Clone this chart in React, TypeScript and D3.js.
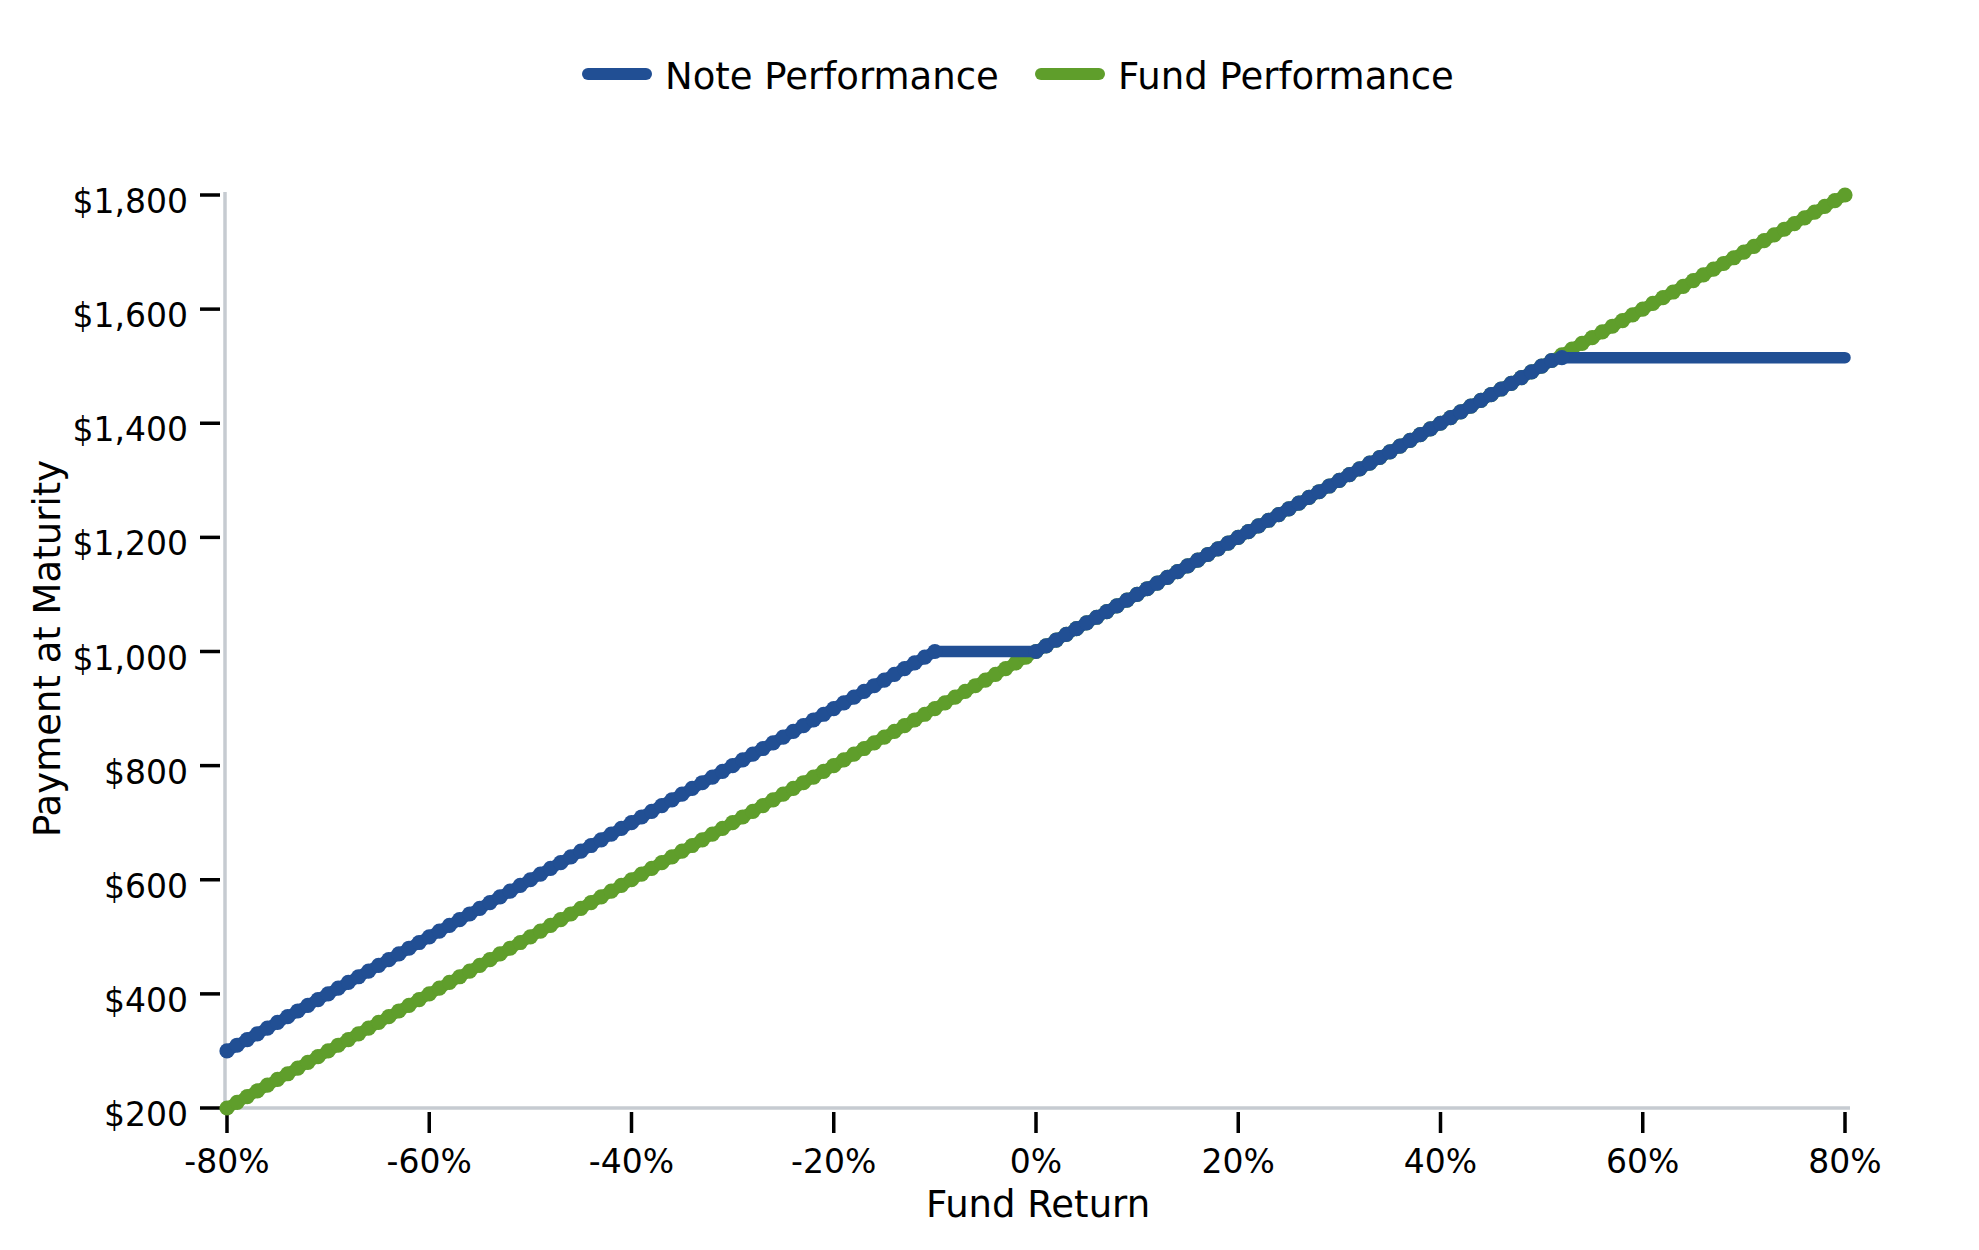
import React, { useRef, useEffect } from "react";
import * as d3 from "d3";

// fund return in %, one point per 1%
const returns = [
  -80, -79, -78, -77, -76, -75, -74, -73, -72, -71,
  -70, -69, -68, -67, -66, -65, -64, -63, -62, -61,
  -60, -59, -58, -57, -56, -55, -54, -53, -52, -51,
  -50, -49, -48, -47, -46, -45, -44, -43, -42, -41,
  -40, -39, -38, -37, -36, -35, -34, -33, -32, -31,
  -30, -29, -28, -27, -26, -25, -24, -23, -22, -21,
  -20, -19, -18, -17, -16, -15, -14, -13, -12, -11,
  -10, -9, -8, -7, -6, -5, -4, -3, -2, -1,
  0, 1, 2, 3, 4, 5, 6, 7, 8, 9,
  10, 11, 12, 13, 14, 15, 16, 17, 18, 19,
  20, 21, 22, 23, 24, 25, 26, 27, 28, 29,
  30, 31, 32, 33, 34, 35, 36, 37, 38, 39,
  40, 41, 42, 43, 44, 45, 46, 47, 48, 49,
  50, 51, 52, 53, 54, 55, 56, 57, 58, 59,
  60, 61, 62, 63, 64, 65, 66, 67, 68, 69,
  70, 71, 72, 73, 74, 75, 76, 77, 78, 79,
  80,
];

const notePerformance = [
  300, 310, 320, 330, 340, 350, 360, 370, 380, 390,
  400, 410, 420, 430, 440, 450, 460, 470, 480, 490,
  500, 510, 520, 530, 540, 550, 560, 570, 580, 590,
  600, 610, 620, 630, 640, 650, 660, 670, 680, 690,
  700, 710, 720, 730, 740, 750, 760, 770, 780, 790,
  800, 810, 820, 830, 840, 850, 860, 870, 880, 890,
  900, 910, 920, 930, 940, 950, 960, 970, 980, 990,
  1000, 1000, 1000, 1000, 1000, 1000, 1000, 1000, 1000, 1000,
  1000, 1010, 1020, 1030, 1040, 1050, 1060, 1070, 1080, 1090,
  1100, 1110, 1120, 1130, 1140, 1150, 1160, 1170, 1180, 1190,
  1200, 1210, 1220, 1230, 1240, 1250, 1260, 1270, 1280, 1290,
  1300, 1310, 1320, 1330, 1340, 1350, 1360, 1370, 1380, 1390,
  1400, 1410, 1420, 1430, 1440, 1450, 1460, 1470, 1480, 1490,
  1500, 1510, 1515, 1515, 1515, 1515, 1515, 1515, 1515, 1515,
  1515, 1515, 1515, 1515, 1515, 1515, 1515, 1515, 1515, 1515,
  1515, 1515, 1515, 1515, 1515, 1515, 1515, 1515, 1515, 1515,
  1515,
];

const fundPerformance = [
  200, 210, 220, 230, 240, 250, 260, 270, 280, 290,
  300, 310, 320, 330, 340, 350, 360, 370, 380, 390,
  400, 410, 420, 430, 440, 450, 460, 470, 480, 490,
  500, 510, 520, 530, 540, 550, 560, 570, 580, 590,
  600, 610, 620, 630, 640, 650, 660, 670, 680, 690,
  700, 710, 720, 730, 740, 750, 760, 770, 780, 790,
  800, 810, 820, 830, 840, 850, 860, 870, 880, 890,
  900, 910, 920, 930, 940, 950, 960, 970, 980, 990,
  1000, 1010, 1020, 1030, 1040, 1050, 1060, 1070, 1080, 1090,
  1100, 1110, 1120, 1130, 1140, 1150, 1160, 1170, 1180, 1190,
  1200, 1210, 1220, 1230, 1240, 1250, 1260, 1270, 1280, 1290,
  1300, 1310, 1320, 1330, 1340, 1350, 1360, 1370, 1380, 1390,
  1400, 1410, 1420, 1430, 1440, 1450, 1460, 1470, 1480, 1490,
  1500, 1510, 1520, 1530, 1540, 1550, 1560, 1570, 1580, 1590,
  1600, 1610, 1620, 1630, 1640, 1650, 1660, 1670, 1680, 1690,
  1700, 1710, 1720, 1730, 1740, 1750, 1760, 1770, 1780, 1790,
  1800,
];

const xTicks = [-80, -60, -40, -20, 0, 20, 40, 60, 80];
const yTicks = [200, 400, 600, 800, 1000, 1200, 1400, 1600, 1800];

const seriesNames = ["Note Performance", "Fund Performance"];
const BLUE = "#214f94";
const GREEN = "#5f9e2b";
const AXIS_GRAY = "#c6cbd1";

const App = () => {
  const svgRef = useRef<SVGSVGElement>(null);

  useEffect(() => {
    const width = 1979;
    const height = 1250;
    const font = "'DejaVu Sans', sans-serif";

    const x = d3.scaleLinear().domain([-80, 80]).range([227, 1845]);
    const y = d3.scaleLinear().domain([200, 1800]).range([1108, 195]);

    const svg = d3.select(svgRef.current).attr("width", width).attr("height", height);
    svg.selectAll("*").remove();

    // axis lines (light gray spines)
    svg
      .append("line")
      .attr("x1", x(-80) - 2)
      .attr("x2", x(80) + 5)
      .attr("y1", y(200))
      .attr("y2", y(200))
      .attr("stroke", AXIS_GRAY)
      .attr("stroke-width", 3.5);
    svg
      .append("line")
      .attr("x1", x(-80) - 2)
      .attr("x2", x(-80) - 2)
      .attr("y1", y(200))
      .attr("y2", y(1800) - 3)
      .attr("stroke", AXIS_GRAY)
      .attr("stroke-width", 3.5);

    // x ticks, offset below the spine
    const xAxis = svg.append("g");
    xTicks.forEach((t) => {
      xAxis
        .append("line")
        .attr("x1", x(t))
        .attr("x2", x(t))
        .attr("y1", y(200) + 4)
        .attr("y2", y(200) + 25)
        .attr("stroke", "#000")
        .attr("stroke-width", 3.5);
      xAxis
        .append("text")
        .attr("x", x(t))
        .attr("y", 1173)
        .attr("text-anchor", "middle")
        .attr("font-family", font)
        .attr("font-size", 33)
        .text(`${t}%`);
    });

    // y ticks, offset left of the spine
    const yAxis = svg.append("g");
    const fmt = d3.format(",");
    yTicks.forEach((t) => {
      yAxis
        .append("line")
        .attr("x1", 200)
        .attr("x2", 220)
        .attr("y1", y(t))
        .attr("y2", y(t))
        .attr("stroke", "#000")
        .attr("stroke-width", 3.5);
      yAxis
        .append("text")
        .attr("x", 188)
        .attr("y", y(t) + 18)
        .attr("text-anchor", "end")
        .attr("font-family", font)
        .attr("font-size", 33)
        .text(`$${fmt(t)}`);
    });

    // axis titles
    svg
      .append("text")
      .attr("x", 1038)
      .attr("y", 1217)
      .attr("text-anchor", "middle")
      .attr("font-family", font)
      .attr("font-size", 37)
      .text("Fund Return");
    svg
      .append("text")
      .attr("transform", `translate(60,${(y(200) + y(1800)) / 2 - 3}) rotate(-90)`)
      .attr("text-anchor", "middle")
      .attr("font-family", font)
      .attr("font-size", 37)
      .text("Payment at Maturity");

    // series: fund first, note drawn on top
    const series = [
      { name: seriesNames[1], values: fundPerformance, color: GREEN },
      { name: seriesNames[0], values: notePerformance, color: BLUE },
    ];
    const line = d3
      .line<number>()
      .x((_, i) => x(returns[i]))
      .y((d) => y(d));

    // markers only where the series is moving (flat runs show as plain line)
    const isFlat = (v: number[], i: number) =>
      i > 0 && v[i] === v[i - 1] && (i === v.length - 1 || v[i] === v[i + 1]);

    series.forEach((s) => {
      const g = svg.append("g");
      g.append("path")
        .attr("d", line(s.values))
        .attr("fill", "none")
        .attr("stroke", s.color)
        .attr("stroke-width", 11.5)
        .attr("stroke-linejoin", "round")
        .attr("stroke-linecap", "round");
      const pts = s.values
        .map((v, i) => ({ v, i }))
        .filter((p) => !isFlat(s.values, p.i));
      g.selectAll("circle")
        .data(pts)
        .enter()
        .append("circle")
        .attr("cx", (p) => x(returns[p.i]))
        .attr("cy", (p) => y(p.v))
        .attr("r", 7.6)
        .attr("fill", s.color);
    });

    // legend
    const legendItems = [
      { name: seriesNames[0], color: BLUE, x0: 582 },
      { name: seriesNames[1], color: GREEN, x0: 1035 },
    ];
    legendItems.forEach((l) => {
      svg
        .append("line")
        .attr("x1", l.x0 + 6)
        .attr("x2", l.x0 + 64)
        .attr("y1", 74)
        .attr("y2", 74)
        .attr("stroke", l.color)
        .attr("stroke-width", 12)
        .attr("stroke-linecap", "round");
      svg
        .append("text")
        .attr("x", l.x0 + 83)
        .attr("y", 89)
        .attr("font-family", font)
        .attr("font-size", 37)
        .text(l.name);
    });
  }, []);

  return (
    <svg
      ref={svgRef}
      style={{ position: "absolute", left: 0, top: 0, background: "#fff" }}
    ></svg>
  );
};

export default App;
